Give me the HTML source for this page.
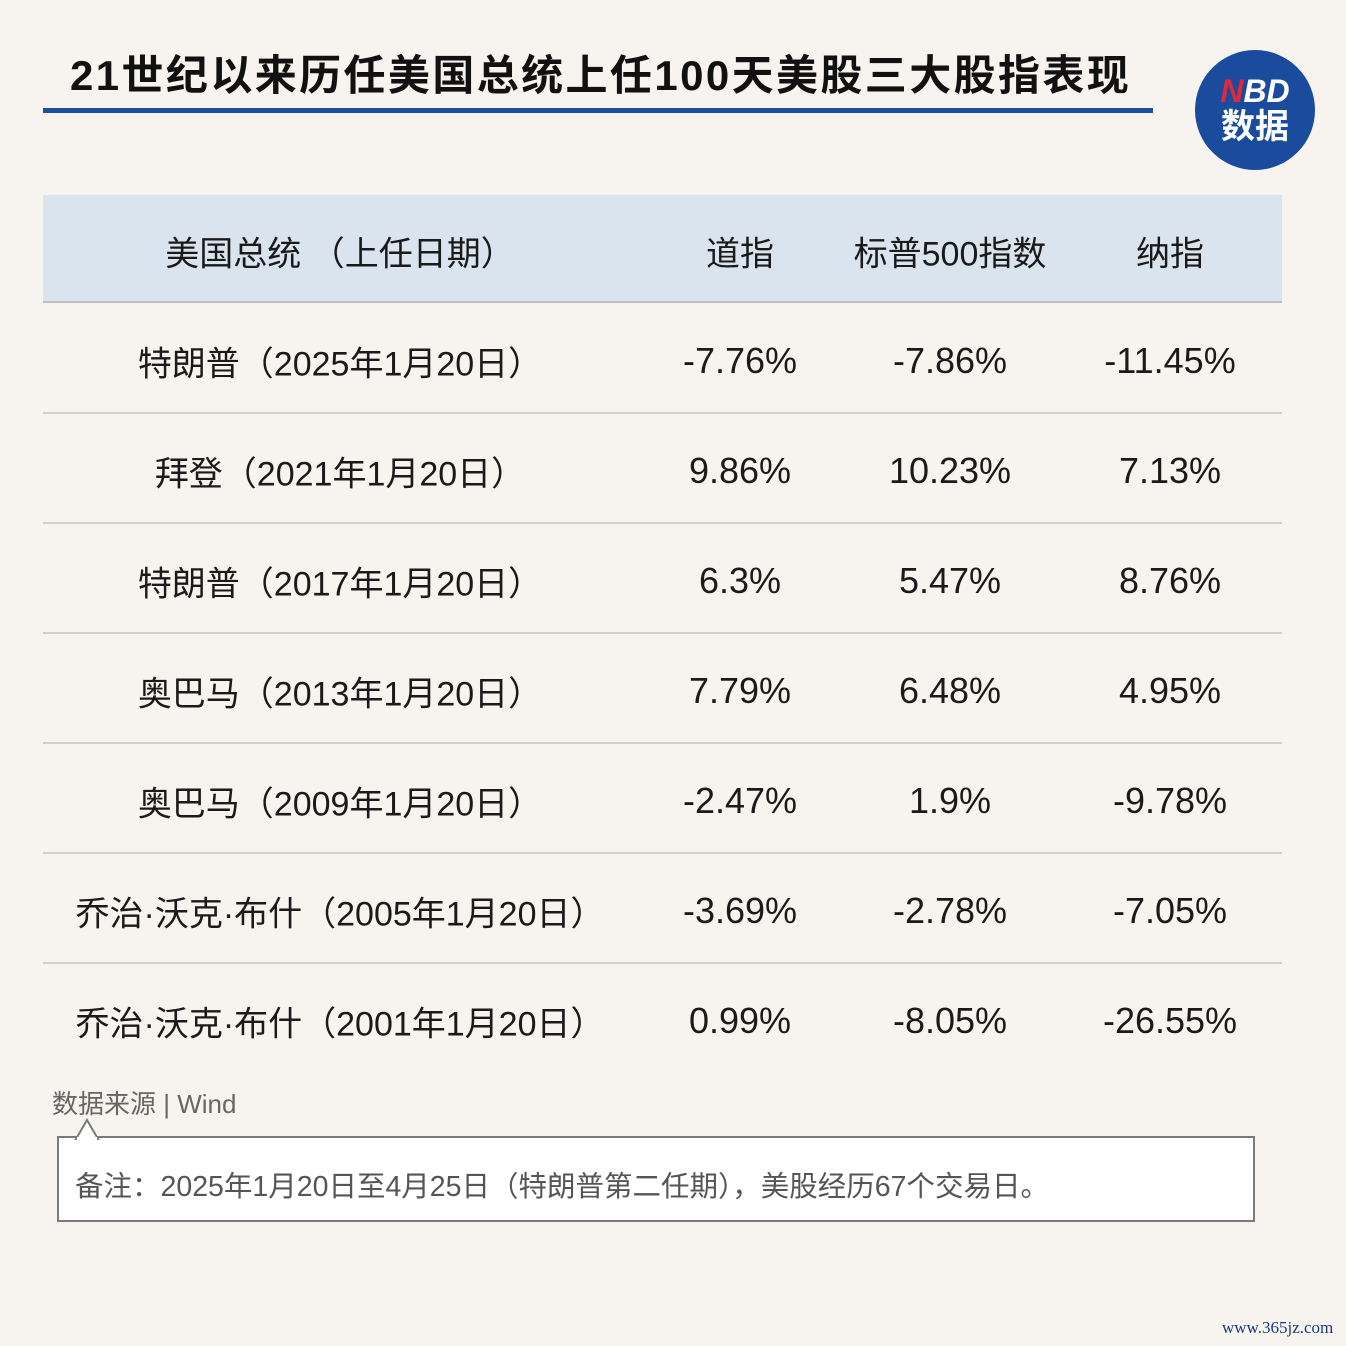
<!DOCTYPE html>
<html><head><meta charset="utf-8"><style>
*{margin:0;padding:0;box-sizing:border-box}
body{width:1346px;height:1346px;background:#f7f4ef;position:relative;overflow:hidden;font-family:"Liberation Sans","Noto Sans CJK SC",sans-serif;color:#1a1a1a}
.abs{position:absolute}
.title{left:70px;top:42px;font-size:42px;font-weight:bold;color:#111;letter-spacing:2.4px;white-space:nowrap}
.bar{left:43px;top:108px;width:1110px;height:5px;background:#1d4f9f}
.logo{left:1195px;top:50px;width:120px;height:120px;border-radius:50%;background:#1b4b9c;color:#fff;text-align:center;font-weight:bold}
.hdr{left:43px;top:195px;width:1239px;height:108px;background:#d9e4ee;border-bottom:2px solid #bfbfbf}
.cell{position:absolute;transform:translate(-50%,-50%);font-size:36px;white-space:nowrap;color:#1a1a1a}
.n{font-size:34px}
.line{position:absolute;left:43px;width:1239px;height:2px;background:#cfcfcf}
.note{left:57px;top:1136px;width:1198px;height:86px;background:#fff;border:2px solid #7a7a7a}
</style></head><body>
<div class="abs title">21世纪以来历任美国总统上任100天美股三大股指表现</div>
<div class="abs bar"></div>
<div class="abs logo"><div style="font-size:32px;line-height:34px;margin-top:24px;font-style:italic"><span style="color:#e0283a">N</span>BD</div><div style="font-size:34px;line-height:38px">数据</div></div>
<div class="abs hdr"></div>
<div class="cell n" style="left:340px;top:251px">美国总统 （上任日期）</div>
<div class="cell n" style="left:740px;top:251px">道指</div>
<div class="cell n" style="left:950px;top:251px">标普500指数</div>
<div class="cell n" style="left:1170px;top:251px">纳指</div>

<div class="cell n" style="left:340px;top:361px">特朗普（2025年1月20日）</div>
<div class="cell" style="left:740px;top:361px">-7.76%</div>
<div class="cell" style="left:950px;top:361px">-7.86%</div>
<div class="cell" style="left:1170px;top:361px">-11.45%</div>
<div class="line" style="top:412px"></div>

<div class="cell n" style="left:340px;top:471px">拜登（2021年1月20日）</div>
<div class="cell" style="left:740px;top:471px">9.86%</div>
<div class="cell" style="left:950px;top:471px">10.23%</div>
<div class="cell" style="left:1170px;top:471px">7.13%</div>
<div class="line" style="top:522px"></div>

<div class="cell n" style="left:340px;top:581px">特朗普（2017年1月20日）</div>
<div class="cell" style="left:740px;top:581px">6.3%</div>
<div class="cell" style="left:950px;top:581px">5.47%</div>
<div class="cell" style="left:1170px;top:581px">8.76%</div>
<div class="line" style="top:632px"></div>

<div class="cell n" style="left:340px;top:691px">奥巴马（2013年1月20日）</div>
<div class="cell" style="left:740px;top:691px">7.79%</div>
<div class="cell" style="left:950px;top:691px">6.48%</div>
<div class="cell" style="left:1170px;top:691px">4.95%</div>
<div class="line" style="top:742px"></div>

<div class="cell n" style="left:340px;top:801px">奥巴马（2009年1月20日）</div>
<div class="cell" style="left:740px;top:801px">-2.47%</div>
<div class="cell" style="left:950px;top:801px">1.9%</div>
<div class="cell" style="left:1170px;top:801px">-9.78%</div>
<div class="line" style="top:852px"></div>

<div class="cell n" style="left:340px;top:911px">乔治·沃克·布什（2005年1月20日）</div>
<div class="cell" style="left:740px;top:911px">-3.69%</div>
<div class="cell" style="left:950px;top:911px">-2.78%</div>
<div class="cell" style="left:1170px;top:911px">-7.05%</div>
<div class="line" style="top:962px"></div>

<div class="cell n" style="left:340px;top:1021px">乔治·沃克·布什（2001年1月20日）</div>
<div class="cell" style="left:740px;top:1021px">0.99%</div>
<div class="cell" style="left:950px;top:1021px">-8.05%</div>
<div class="cell" style="left:1170px;top:1021px">-26.55%</div>

<div class="abs" style="left:52px;top:1084px;font-size:26px;color:#666">数据来源 | Wind</div>
<div class="abs note"></div>
<svg class="abs" style="left:74px;top:1118px" width="30" height="22"><polygon points="2,21 13,2 24,21" fill="#fff" stroke="#7a7a7a" stroke-width="2"/><rect x="3" y="19" width="20" height="4" fill="#fff"/></svg>
<div class="abs" style="left:75px;top:1164px;font-size:28.5px;color:#555;white-space:nowrap">备注：2025年1月20日至4月25日（特朗普第二任期），美股经历67个交易日。</div>
<div class="abs" style="left:1222px;top:1318px;font-size:17px;color:#1b3c78;font-family:'Liberation Serif',serif">www.365jz.com</div>
</body></html>
